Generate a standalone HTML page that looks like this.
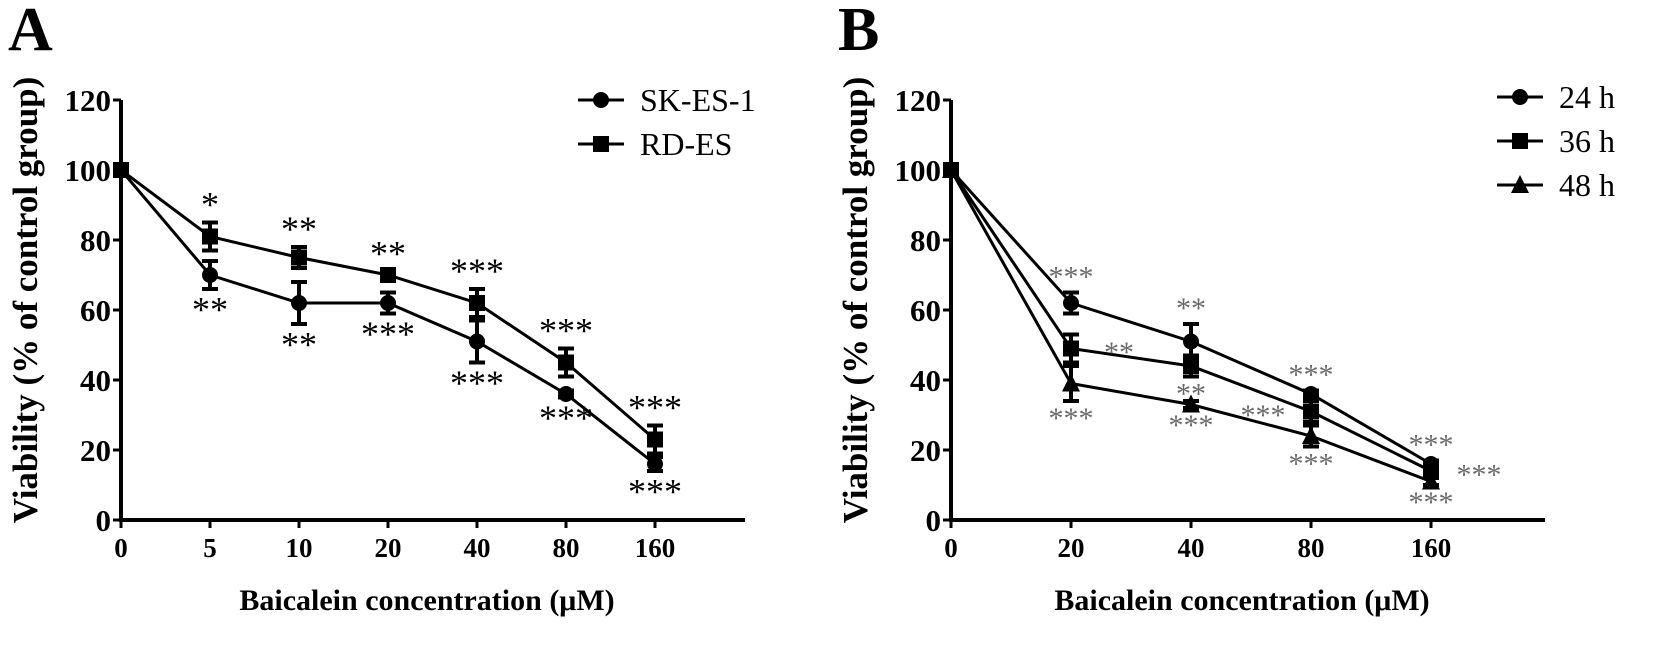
<!DOCTYPE html>
<html><head><meta charset="utf-8"><style>
body{margin:0;background:#fff;}
svg{display:block;font-family:"Liberation Serif",serif;}
</style></head><body>
<svg id="c" width="1654" height="660"></svg>
<script>
const catsA=["0","5","10","20","40","80","160"];
const skes=[100,70,62,62,51,36,16];
const skesErr=[0,4,6,3,6,1,2];
const rdes=[100,81,75,70,62,45,23];
const rdesErr=[0,4,3,1,4,4,4];
const starsSkA=["","**","**","***","***","***","***"];
const starsRdA=["","*","**","**","***","***","***"];
const catsB=["0","20","40","80","160"];
const h24=[100,62,51,36,16];
const h24Err=[0,3,5,1,1];
const h36=[100,49,44,31,14];
const h36Err=[0,4,3,3,1];
const h48=[100,39,33,24,11];
const h48Err=[0,5,1,3,1];
const yTicks=[0,20,40,60,80,100,120];

const NS="http://www.w3.org/2000/svg";
const svg=document.getElementById('c');
function mk(t,a,p){const e=document.createElementNS(NS,t);for(const k in a)e.setAttribute(k,a[k]);(p||svg).appendChild(e);return e;}
function txt(s,a,p){const e=mk('text',a,p);e.textContent=s;return e;}
function y(v){return 520-v*3.5;}

function marker(g,shape,cx,cy,s){
  if(shape==='circle')return mk('circle',{cx:cx,cy:cy,r:s},g);
  if(shape==='square')return mk('rect',{x:cx-s,y:cy-s,width:2*s,height:2*s},g);
  return mk('polygon',{points:`${cx},${cy-s-2} ${cx-s-1},${cy+s} ${cx+s+1},${cy+s}`},g);
}

function panel(id,letter,ax,step,axEnd,cats,series,legX,legY){
  const g=mk('g',{});
  
  
  const x=i=>ax+i*step;
  const pl=txt(letter,{x:ax-113,y:50,'font-size':62,'font-weight':'bold'},g);
  
  
  mk('line',{x1:ax,y1:y(120),x2:ax,y2:y(0),stroke:'#000','stroke-width':4},g);
  mk('line',{x1:ax-2,y1:y(0),x2:axEnd,y2:y(0),stroke:'#000','stroke-width':4},g);
  yTicks.forEach(v=>{
    mk('line',{x1:ax-8,y1:y(v),x2:ax,y2:y(v),stroke:'#000','stroke-width':3},g);
    const t=txt(String(v),{x:ax-10,y:y(v)+11,'font-size':31,'font-weight':'bold','text-anchor':'end'},g);
    
    
  });
  cats.forEach((c,i)=>{
    mk('line',{x1:x(i),y1:y(0),x2:x(i),y2:y(0)+8,stroke:'#000','stroke-width':3},g);
    const t=txt(c,{x:x(i),y:y(0)+37,'font-size':27,'font-weight':'bold','text-anchor':'middle'},g);
    
    
  });
  const xt=txt('Baicalein  concentration (μM)',{x:ax+(axEnd-ax)/2-6,y:610,'font-size':30,'font-weight':'bold','text-anchor':'middle'},g);
  
  
  const yt=txt('Viability (% of control group)',{x:0,y:0,'font-size':35,'font-weight':'bold','text-anchor':'middle',transform:`translate(${ax-84},${y(60)-10}) rotate(-90)`},g);
  
  
  series.forEach((s,si)=>{
    const sg=mk('g',{},g);
    
    
    mk('polyline',{points:s.vals.map((v,i)=>x(i)+','+y(v)).join(' '),fill:'none',stroke:'#000','stroke-width':3},sg);
    s.vals.forEach((v,i)=>{
      const e=s.err[i];
      if(e>0){
        mk('line',{x1:x(i),y1:y(v+e),x2:x(i),y2:y(v-e),stroke:'#000','stroke-width':4},sg);
        mk('line',{x1:x(i)-8,y1:y(v+e),x2:x(i)+8,y2:y(v+e),stroke:'#000','stroke-width':4},sg);
        mk('line',{x1:x(i)-8,y1:y(v-e),x2:x(i)+8,y2:y(v-e),stroke:'#000','stroke-width':4},sg);
      }
      const m=marker(sg,s.shape,x(i),y(v),8);
      
      
      if(s.stars&&s.stars[i]){
        let sx=x(i),sy;
        const pos=s.pos?s.pos[i]:(s.above?'a':'b');
        const fs=s.starSize||36;
        if(pos==='a')sy=y(v+e)-6;
        else if(pos==='b')sy=y(v-e)+fs*0.9;
        else if(pos==='r'){sx=x(i)+48;sy=y(v)+fs*0.45;}
        else {sx=x(i)-48;sy=y(v)+fs*0.45;}
        const st=txt(s.stars[i],{x:sx,y:sy,'font-size':fs,'text-anchor':'middle',fill:s.starColor||'#000'},sg);
        
        
      }
    });
    const ly=legY+si*44;
    mk('line',{x1:legX,y1:ly,x2:legX+46,y2:ly,stroke:'#000','stroke-width':3},sg);
    marker(sg,s.shape,legX+23,ly,8);
    const lt=txt(s.name,{x:legX+62,y:ly+11,'font-size':32},sg);
    
    
  });
}

panel('a','A',121,89,745,catsA,[
  {name:'SK-ES-1',shape:'circle',vals:skes,err:skesErr,stars:starsSkA,above:false},
  {name:'RD-ES',shape:'square',vals:rdes,err:rdesErr,stars:starsRdA,above:true}
],578,100);

const gray='#6a6a6a';
panel('b','B',951,120,1545,catsB,[
  {name:'24 h',shape:'circle',vals:h24,err:h24Err,stars:["","***","**","***","***"],above:true,starColor:gray,starSize:30},
  {name:'36 h',shape:'square',vals:h36,err:h36Err,stars:["","**","**","***","***"],pos:["","r","b","l","r"],starColor:gray,starSize:30},
  {name:'48 h',shape:'triangle',vals:h48,err:h48Err,stars:["","***","***","***","***"],above:false,starColor:gray,starSize:30}
],1497,97);
</script>
</body></html>
